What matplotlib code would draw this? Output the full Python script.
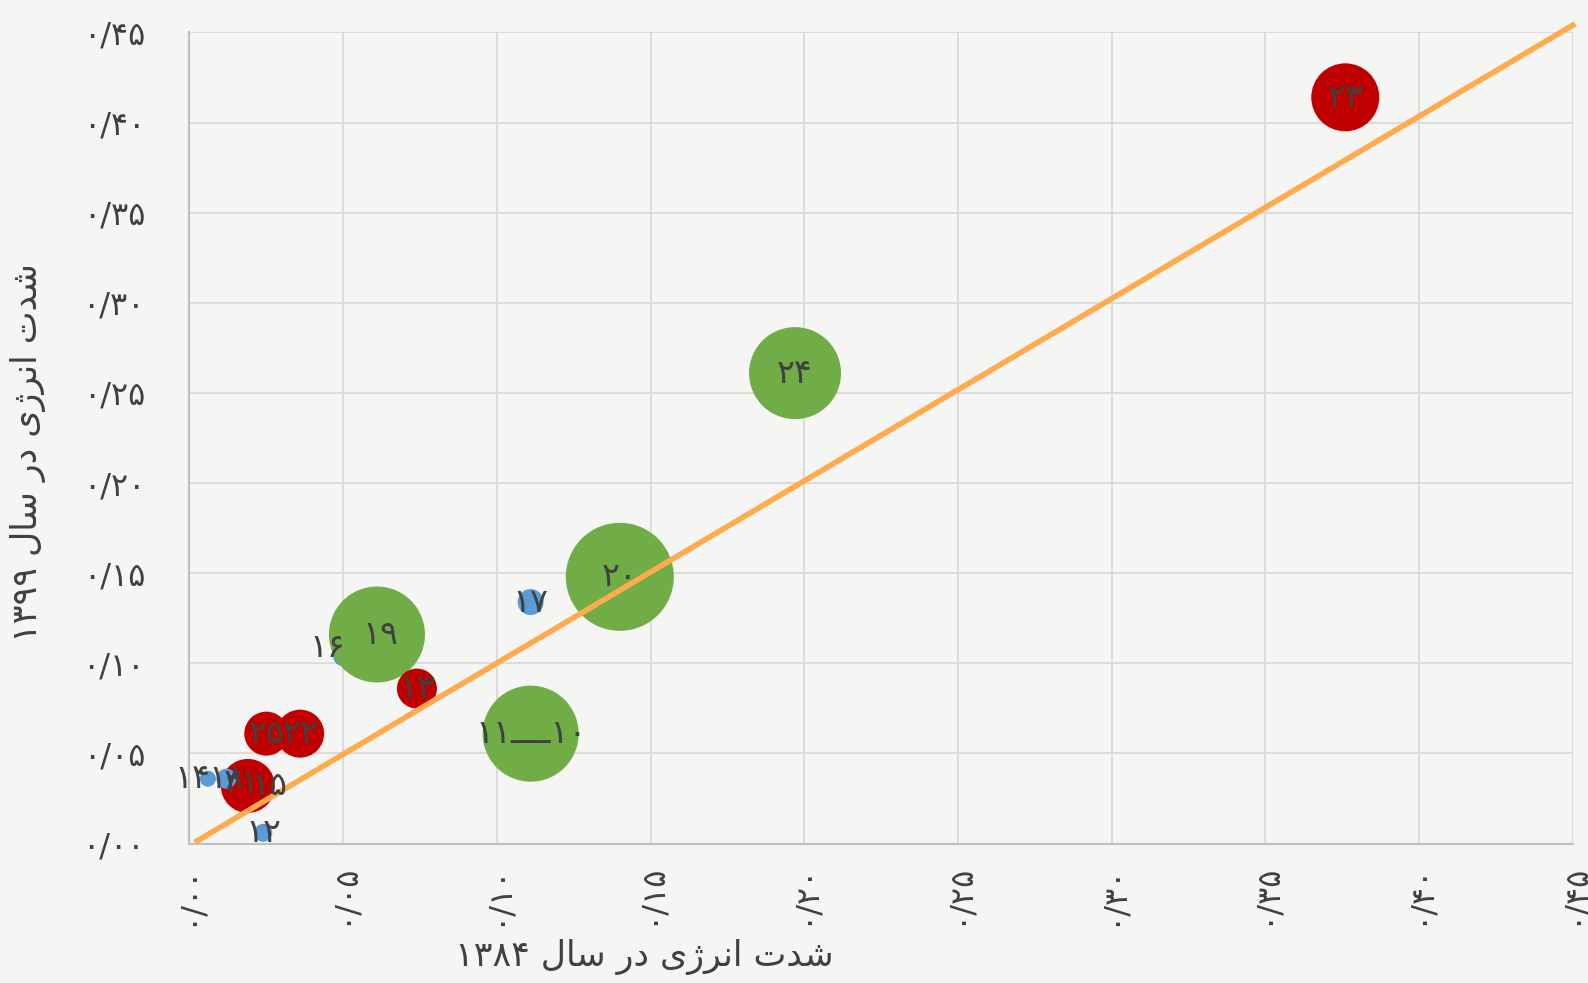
import numpy as np
import matplotlib
matplotlib.use("Agg")
import matplotlib.pyplot as plt

FA = str.maketrans("0123456789", "۰۱۲۳۴۵۶۷۸۹")


def fa(s):
    return s.translate(FA)


# bubble data: sector id, energy intensity 1384, energy intensity 1399, bubble radius (px), group
labels = ["23", "24", "20", "17", "16", "19", "13", "10", "22", "25", "15", "21", "18", "14", "12"]
x1384 = [0.376, 0.197, 0.140, 0.111, 0.050, 0.061, 0.074, 0.111, 0.036, 0.025, 0.019, 0.018, 0.012, 0.006, 0.024]
y1399 = [0.414, 0.261, 0.148, 0.134, 0.104, 0.116, 0.086, 0.061, 0.061, 0.061, 0.032, 0.034, 0.036, 0.036, 0.006]
radius = [34, 46, 54, 13, 10, 48, 20, 48, 24, 22, 27, 18, 10, 8, 9]
group = ["r", "g", "g", "b", "b", "g", "r", "g", "r", "r", "r", "r", "b", "b", "b"]
point_text = ["23", "24", "20", "17", "16", "19", "13", "11ــــ10", "22", "25", "15", "21", "18", "14", "12"]
label_dx = [0, 0, 0, 0, -0.005, 0.001, 0, 0, 0, 0, 0.007, -0.001, 0.0, -0.005, 0]
label_dy = [0, 0, 0, 0, 0.005, 0, 0, 0, 0, 0, 0, 0, 0, 0, 0]

ticks = [0.0, 0.05, 0.10, 0.15, 0.20, 0.25, 0.30, 0.35, 0.40, 0.45]
tick_labels = [fa("0/00"), fa("0/05"), fa("0/10"), fa("0/15"), fa("0/20"),
               fa("0/25"), fa("0/30"), fa("0/35"), fa("0/40"), fa("0/45")]

colors = {"r": "#C00000", "g": "#70AD47", "b": "#5B9BD5"}
bg = "#F5F5F3"
txt = "#404040"

# visually ordered, pre-shaped Persian axis titles
xlab = fa("1384") + " \uFEDD\uFE8E\uFEB3 \uFEAD\uFEA9 \uFBFC\uFB8A\uFEAE\uFEE7\uFE8D \uFE95\uFEAA\uFEB7"
ylab = fa("1399") + " \uFEDD\uFE8E\uFEB3 \uFEAD\uFEA9 \uFBFC\uFB8A\uFEAE\uFEE7\uFE8D \uFE95\uFEAA\uFEB7"

fig = plt.figure(figsize=(15.88, 9.83), dpi=100, facecolor=bg)
ax = fig.add_axes([0.1193, 0.1418, 0.8711, 0.8252], facecolor=bg)

ax.set_xlim(0, 0.45)
ax.set_ylim(0, 0.45)
ax.set_xticks(ticks)
ax.set_yticks(ticks)
ax.set_xticklabels(tick_labels, rotation=90, fontsize=23, color=txt)
ax.set_yticklabels(tick_labels, fontsize=23, color=txt)
ax.tick_params(length=0)
ax.tick_params(axis="y", pad=32)
ax.tick_params(axis="x", pad=14)
ax.grid(True, color="#D9D9D9", linewidth=1.3)
ax.set_axisbelow(True)
for side in ["top", "right"]:
    ax.spines[side].set_visible(False)
for side in ["left", "bottom"]:
    ax.spines[side].set_color("#BFBFBF")
    ax.spines[side].set_linewidth(1.5)

# equality line
ax.plot([0.0025, 0.45], [0.0015, 0.454], color="#FFAA4C", linewidth=4, clip_on=False, zorder=3)

# sector 16 sits under bubble 19, the rest: bigger bubbles first
order = list(np.argsort(radius)[::-1])
order.remove(4)
order.insert(0, 4)
for z, i in enumerate(order):
    s = (1.44 * radius[i]) ** 2
    ax.scatter(x1384[i], y1399[i], s=s, color=colors[group[i]], edgecolors="none", zorder=2 + z * 0.01)

for i in range(len(labels)):
    ax.text(x1384[i] + label_dx[i], y1399[i] + label_dy[i], fa(point_text[i]), ha="center", va="center",
            fontsize=24, color=txt, zorder=5)

fig.text(0.4056, 0.0264, xlab, fontsize=25, color=txt, ha="center", va="center")
fig.text(0.0179, 0.5395, ylab, fontsize=25, color=txt, ha="center", va="center", rotation=90)

fig.savefig("out.png", dpi=100, facecolor=bg)
